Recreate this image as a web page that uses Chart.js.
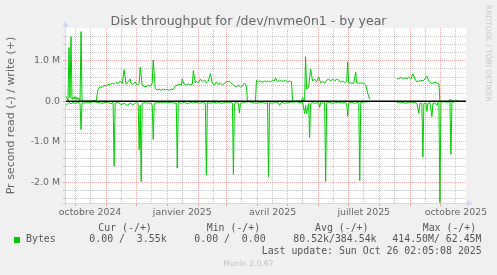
<!DOCTYPE html>
<html>
<head>
<meta charset="utf-8">
<script src="https://cdn.jsdelivr.net/npm/chart.js@4.4.1/dist/chart.umd.min.js"></script>
<style>
    body { margin: 0; background: #F0F0F0; }
    #wrap { position: relative; width: 497px; height: 275px; overflow: hidden; font-family: 'DejaVu Sans', sans-serif; color: #666; }
    #wrap div { position: absolute; white-space: pre; }
    #wrap .mono { font-family: 'DejaVu Sans Mono', monospace; font-size: 9.9px; line-height: 12px; color: #555; }
    canvas { position: absolute; left: 0; top: 0; }
</style>
</head>
<body>
<div id="wrap">
    <canvas id="diskChart" width="497" height="275"></canvas>
    <div id="title" style="left:0;width:497px;text-align:center;top:12.5px;font-size:12.5px;line-height:15px;">Disk throughput for /dev/nvme0n1 - by year</div>
    <div id="mark" style="left:484px;top:5px;font-size:7.5px;line-height:9px;writing-mode:vertical-rl;color:#c8c8c8;">RRDTOOL / TOBI OETIKER</div>
    <div id="version" style="left:0;width:497px;text-align:center;top:259px;font-size:7.7px;line-height:10px;color:#c0c0c0;">Munin 2.0.67</div>
</div>
<script>
// window is 400 days wide, ending on the last update
const startDay = Date.UTC(2024, 8, 21);
const spanDays = 400;

const monthNames = ['janvier', 'février', 'mars', 'avril', 'mai', 'juin', 'juillet', 'août', 'septembre', 'octobre', 'novembre', 'décembre'];
const labelMonths = [[2024, 9], [2025, 0], [2025, 3], [2025, 6], [2025, 9]];

// [day since start, M bytes/s], null = no data
const writeBytes = [
    [0, 0.05], [1, 0.12], [2, 0.08], [3, 0.02], [4, 1.33], [5, 0.08], [6, 1.6], [7, 0.05], [8, 0.1], [9, 0.06],
    [10, 0.12], [11, 0.05], [12, 0.1], [13, 0.04], [14, 0.08], [15, 0.02], [16, 1.72], [17, 0.02], [19, 0.0], [22, 0.01],
    [25, 0.0], [28, 0.02], [31, 0.0], [33, 0.3], [35, 0.36], [37, 0.34], [39, 0.4], [41, 0.37], [43, 0.42], [45, 0.4],
    [47, 0.45], [49, 0.42], [51, 0.47], [53, 0.44], [55, 0.5], [57, 0.44], [59, 0.78], [61, 0.42], [63, 0.48], [65, 0.55],
    [66, 0.44], [68, 0.42], [70, 0.48], [72, 0.4], [74, 0.44], [75, 0.84], [77, 0.4], [79, 0.37], [81, 0.36], [83, 0.4],
    [85, 0.37], [87, 0.45], [88, 1.02], [90, 0.32], [92, 0.28], [94, 0.3], [96, 0.27], [98, 0.3], [100, 0.28], [102, 0.3],
    [104, 0.27], [106, 0.3], [108, 0.29], [110, 0.38], [112, 0.4], [114, 0.42], [116, 0.4], [117, 0.55], [119, 0.42], [121, 0.4],
    [123, 0.43], [125, 0.41], [127, 0.42], [128, 0.76], [130, 0.45], [131, 0.5], [133, 0.45], [135, 0.55], [137, 0.48], [139, 0.52],
    [141, 0.45], [143, 0.5], [145, 0.68], [147, 0.45], [149, 0.4], [151, 0.48], [153, 0.42], [155, 0.45], [157, 0.4], [159, 0.45],
    [161, 0.48], [164, 0.5], [167, 0.42], [169, 0.38], [171, 0.35], [173, 0.4], [175, 0.35], [177, 0.38], [179, 0.45], [180, 0.42],
    [181, 0.35], [182, 0.0], [186, 0.0], [190, 0.0], [191, 0.52], [193, 0.48], [195, 0.5], [197, 0.47], [199, 0.5], [201, 0.49],
    [203, 0.5], [205, 0.48], [207, 0.52], [209, 0.5], [210, 0.58], [212, 0.48], [214, 0.52], [216, 0.5], [218, 0.5], [220, 0.52],
    [222, 0.48], [224, 0.5], [226, 0.48], [227, 0.0], [230, 0.0], [233, 0.01], [236, 0.0], [237, 0.1], [238, 0.0], [239, 0.0],
    [240, 1.1], [241, 0.3], [243, 0.35], [245, 0.8], [247, 0.5], [249, 0.55], [251, 0.48], [253, 0.6], [255, 0.45], [257, 0.5],
    [259, 0.45], [261, 0.52], [263, 0.55], [265, 0.5], [267, 0.55], [269, 0.5], [271, 0.55], [273, 0.52], [275, 0.48], [277, 0.5],
    [279, 0.45], [281, 0.5], [282, 0.97], [283, 0.45], [285, 0.45], [288, 0.45], [290, 0.72], [291, 0.45], [293, 0.45], [296, 0.45],
    [298, 0.45], [300, 0.4], [301, 0.3], [302, 0.2], [304, 0.05], [305, null],
    [331, 0.56], [333, 0.55], [335, 0.6], [337, 0.55], [339, 0.58], [341, 0.56], [343, 0.6], [345, 0.55], [347, 0.68], [349, 0.55],
    [351, 0.48], [353, 0.5], [355, 0.52], [357, 0.5], [359, 0.55], [361, 0.62], [363, 0.5], [365, 0.45], [367, 0.45], [369, 0.47],
    [371, 0.45], [373, 0.43], [374, 0.0], [378, 0.0], [382, 0.0], [385, 0.05], [386, 0.0], [390, 0.0], [391, 0.02], [392, 0.0]
];

const readBytes = [
    [0, -0.05], [2, -0.08], [4, -0.03], [6, -0.06], [8, -0.02], [10, -0.05], [12, -0.04], [14, -0.03], [15, -0.05], [16, -0.7],
    [17, -0.03], [19, -0.05], [22, -0.02], [25, -0.03], [28, -0.01], [31, -0.02], [34, -0.03], [37, -0.05], [40, -0.03], [43, -0.02],
    [46, -0.06], [48, -0.02], [49, -1.6], [50, -0.05], [53, -0.03], [56, -0.08], [59, -0.05], [62, -0.1], [65, -0.05], [68, -0.08],
    [71, -0.03], [73, -0.05], [74, -1.19], [75, -0.1], [76, -1.98], [77, -0.05], [80, -0.03], [83, -0.05], [86, -0.04], [87, -0.1],
    [88, -0.94], [89, -0.05], [92, -0.03], [95, -0.02], [98, -0.04], [101, -0.02], [104, -0.03], [107, -0.02], [110, -0.05], [111, -0.04],
    [112, -1.65], [113, -0.03], [116, -0.05], [119, -0.02], [122, -0.06], [125, -0.03], [128, -0.04], [131, -0.02], [134, -0.05], [137, -0.03],
    [140, -0.04], [141, -1.82], [142, -0.03], [145, -0.05], [148, -0.02], [151, -0.04], [154, -0.03], [157, -0.05], [160, -0.02], [163, -0.04],
    [166, -0.03], [167, -0.05], [168, -1.8], [169, -0.05], [171, -0.03], [173, -0.05], [174, -0.29], [175, -0.05], [177, -0.03], [180, -0.02],
    [183, -0.01], [186, -0.02], [189, -0.04], [191, -0.05], [194, -0.02], [197, -0.03], [200, -0.05], [202, -0.03], [203, -1.86], [204, -0.03],
    [207, -0.05], [210, -0.02], [213, -0.04], [214, -0.1], [216, -0.02], [219, -0.05], [222, -0.03], [225, -0.02], [228, -0.02], [231, -0.01],
    [234, -0.03], [237, -0.02], [239, -0.3], [240, -0.1], [241, -0.3], [243, -0.05], [244, -0.89], [245, -0.05], [247, -0.03], [250, -0.05],
    [253, -0.03], [254, -0.15], [255, -0.03], [258, -0.05], [259, -0.03], [260, -1.98], [261, -0.04], [264, -0.02], [267, -0.05], [270, -0.03],
    [273, -0.02], [276, -0.04], [279, -0.03], [281, -0.05], [282, -0.37], [283, -0.04], [286, -0.02], [289, -0.05], [292, -0.03], [293, -0.02],
    [294, -1.96], [295, -0.03], [298, -0.02], [301, -0.01], [304, -0.01], [305, null],
    [331, -0.02], [334, -0.04], [337, -0.03], [340, -0.05], [343, -0.02], [346, -0.04], [349, -0.03], [351, -0.05], [353, -0.3], [354, -0.05],
    [356, -0.06], [357, -1.38], [358, -0.05], [360, -0.04], [361, -0.25], [362, -0.05], [364, -0.03], [366, -0.38], [367, -0.05], [369, -0.04],
    [371, -0.1], [372, -0.03], [373, -0.02], [374, -2.5], [375, -0.02], [378, -0.01], [381, -0.02], [384, -0.01], [385, -1.31], [386, -0.02],
    [389, -0.01], [392, 0.0]
];

const legendName = 'Bytes';
const legendHeads = ['Cur (-/+)', 'Min (-/+)', 'Avg (-/+)', 'Max (-/+)'];
const legendValues = ['0.00 /  3.55k', '0.00 /  0.00', '80.52k/384.54k', '414.50M/ 62.45M'];
const lastUpdate = 'Last update: Sun Oct 26 02:05:08 2025';

const LINE = '#00CC00';
const AXIS = '#CFD6F8';

const canvas = document.getElementById('diskChart');
const ctx = canvas.getContext('2d');

// rrdtool grid is dotted: checkerboard pattern so every 1px line comes out dotted
function dotPattern(color) {
    const c = document.createElement('canvas');
    c.width = 2;
    c.height = 2;
    const g = c.getContext('2d');
    g.fillStyle = color;
    g.fillRect(0, 0, 1, 1);
    g.fillRect(1, 1, 1, 1);
    return ctx.createPattern(c, 'repeat');
}
const GRID = dotPattern('rgba(143, 143, 143, 0.5)');
const MGRID = dotPattern('rgba(222, 79, 79, 0.45)');

function dayOf(y, m, d) {
    return (Date.UTC(y, m, d) - startDay) / 86400000;
}

// month starts = red lines, the 16th = grey line (and label)
const xTicks = [];
for (let y = 2024; y <= 2025; y++) {
    for (let m = 0; m < 12; m++) {
        [1, 16].forEach((d) => {
            const v = dayOf(y, m, d);
            if (v < 0 || v > spanDays) {
                return;
            }
            const labelled = d === 16 && labelMonths.some(([ly, lm]) => ly === y && lm === m);
            xTicks.push({ value: v, month: d === 1, text: labelled ? monthNames[m] + ' ' + y : '' });
        });
    }
}

const yTicks = [];
for (let k = -12; k <= 8; k++) {
    yTicks.push({ value: k * 200000, big: k % 5 === 0 });
}

function yLabel(v) {
    if (v === 0) return '0.0';
    return (v / 1e6).toFixed(1) + ' M';
}

function toPoints(rows) {
    return rows.map(([d, v]) => ({ x: d, y: v === null ? null : v * 1e6 }));
}

const plotBackground = {
    id: 'plotBackground',
    beforeDraw(chart) {
        const { ctx, chartArea: a } = chart;
        ctx.save();
        ctx.fillStyle = '#FFFFFF';
        ctx.fillRect(a.left, a.top, a.right - a.left, a.bottom - a.top);
        ctx.restore();
    }
};

const axisArrows = {
    id: 'axisArrows',
    afterDraw(chart) {
        const { ctx, chartArea: a } = chart;
        const x0 = a.left + 0.5;
        const y0 = a.bottom + 0.5;
        ctx.save();
        ctx.strokeStyle = AXIS;
        ctx.fillStyle = AXIS;
        ctx.lineWidth = 1;
        ctx.beginPath();
        ctx.moveTo(x0, a.bottom + 3);
        ctx.lineTo(x0, a.top - 3);
        ctx.moveTo(a.left - 3, y0);
        ctx.lineTo(a.right + 3, y0);
        ctx.stroke();
        ctx.beginPath();
        ctx.moveTo(x0 - 3, a.top - 1);
        ctx.lineTo(x0 + 3, a.top - 1);
        ctx.lineTo(x0, a.top - 7);
        ctx.closePath();
        ctx.fill();
        ctx.beginPath();
        ctx.moveTo(a.right + 1, y0 - 3);
        ctx.lineTo(a.right + 1, y0 + 3);
        ctx.lineTo(a.right + 7, y0);
        ctx.closePath();
        ctx.fill();
        ctx.restore();
    }
};

const diskChartConfig = {
    type: 'line',
    data: {
        datasets: [
            {
                label: 'zero',
                data: [{ x: 0, y: 0 }, { x: spanDays, y: 0 }],
                borderColor: '#000000',
                borderWidth: 1.5,
            },
            {
                label: 'write',
                data: toPoints(writeBytes),
                borderColor: LINE,
                borderWidth: 1,
            },
            {
                label: 'read',
                data: toPoints(readBytes),
                borderColor: LINE,
                borderWidth: 1,
            }
        ]
    },
    options: {
        responsive: false,
        animation: false,
        devicePixelRatio: 1,
        spanGaps: false,
        elements: {
            point: { radius: 0 },
            line: { tension: 0 }
        },
        layout: {
            padding: { left: 0, right: 31, top: 28, bottom: 52 }
        },
        plugins: {
            legend: { display: false },
            tooltip: { enabled: false },
            title: { display: false }
        },
        scales: {
            x: {
                type: 'linear',
                min: 0,
                max: spanDays,
                afterBuildTicks: (scale) => { scale.ticks = xTicks.map((t) => ({ ...t })); },
                afterFit: (scale) => { scale.height = 20; },
                border: { display: false },
                grid: {
                    color: (c) => (c.tick && c.tick.month ? MGRID : GRID),
                    tickColor: (c) => (c.tick && c.tick.month ? 'rgba(222, 79, 79, 0.5)' : 'rgba(0,0,0,0)'),
                    tickLength: 3,
                    lineWidth: 1,
                },
                ticks: {
                    autoSkip: false,
                    maxRotation: 0,
                    padding: 1,
                    color: '#666666',
                    font: { family: 'DejaVu Sans', size: 9.4 },
                    callback: (value, index, ticks) => ticks[index].text,
                }
            },
            y: {
                type: 'linear',
                min: -2510000,
                max: 1810000,
                afterBuildTicks: (scale) => { scale.ticks = yTicks.map((t) => ({ ...t })); },
                afterFit: (scale) => { scale.width = 65; },
                border: { display: false },
                grid: {
                    color: (c) => (c.tick && c.tick.big ? MGRID : GRID),
                    tickColor: (c) => (c.tick && c.tick.big ? 'rgba(222, 79, 79, 0.5)' : 'rgba(143, 143, 143, 0.4)'),
                    tickLength: 2,
                    lineWidth: 1,
                },
                ticks: {
                    autoSkip: false,
                    padding: 3,
                    color: '#666666',
                    font: { family: 'DejaVu Sans', size: 9.4 },
                    callback: (value, index, ticks) => (ticks[index].big ? yLabel(value) : ''),
                },
                title: {
                    display: true,
                    text: 'Pr second read (-) / write (+)',
                    color: '#666666',
                    font: { family: 'DejaVu Sans', size: 11 },
                    padding: { top: 5, bottom: 0 },
                }
            }
        }
    },
    plugins: [plotBackground, axisArrows]
};

function addText(text, left, top, cls) {
    const el = document.createElement('div');
    el.className = cls;
    el.textContent = text;
    el.style.left = left + 'px';
    el.style.top = top + 'px';
    document.getElementById('wrap').appendChild(el);
}

function renderLegend() {
    const headLeft = [98.3, 206.7, 315, 422.7];
    const valueLeft = [89.3, 194.3, 293.3, 392.3];
    legendHeads.forEach((h, i) => addText(h, headLeft[i], 221.6, 'mono'));
    legendValues.forEach((v, i) => addText(v, valueLeft[i], 232.9, 'mono'));
    addText(legendName, 26, 232.9, 'mono');
    addText(lastUpdate, 261.7, 244.9, 'mono');

    const box = document.createElement('div');
    box.style.cssText = 'left:14px;top:237px;width:6px;height:6px;background:' + LINE + ';';
    document.getElementById('wrap').appendChild(box);
}

Chart.defaults.font.family = "'DejaVu Sans', sans-serif";
const diskChart = new Chart(ctx, diskChartConfig);
renderLegend();
</script>
</body>
</html>
